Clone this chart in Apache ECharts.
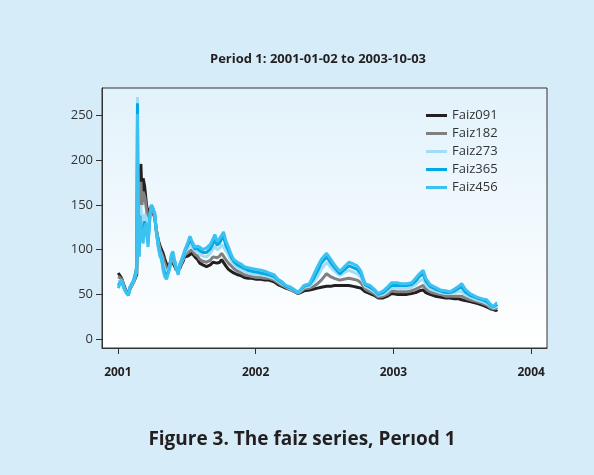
<!DOCTYPE html>
<html lang="en">
<head>
    <meta charset="UTF-8">
    <title>Faiz series, Period 1</title>
    <script src="https://cdn.jsdelivr.net/npm/echarts@6/dist/echarts.min.js"></script>
    <style>
        html, body { margin: 0; padding: 0; background: #d6ecf9; }
    </style>
</head>
<body>
<div id="myChart" style="height: 475px;width: 594px;"></div>
<script>
    var dates = [
        '2001-01-02','2001-01-05','2001-01-11','2001-01-17','2001-01-23','2001-01-29','2001-02-02','2001-02-07',
        '2001-02-12','2001-02-16','2001-02-20','2001-02-22','2001-02-23','2001-02-26','2001-02-28','2001-03-03',
        '2001-03-06','2001-03-09','2001-03-13','2001-03-18','2001-03-22','2001-03-27','2001-03-31','2001-04-04',
        '2001-04-09','2001-04-13','2001-04-18','2001-04-23','2001-04-27','2001-05-01','2001-05-05','2001-05-10',
        '2001-05-14','2001-05-18','2001-05-23','2001-05-27','2001-05-31','2001-06-05','2001-06-10','2001-06-14',
        '2001-06-19','2001-06-23','2001-06-27','2001-07-02','2001-07-06','2001-07-11','2001-07-16','2001-07-24',
        '2001-07-31','2001-08-06','2001-08-14','2001-08-24','2001-09-03','2001-09-10','2001-09-15','2001-09-21',
        '2001-09-28','2001-10-03','2001-10-08','2001-10-14','2001-10-21','2001-10-28','2001-11-04','2001-11-14',
        '2001-11-23','2001-12-02','2001-12-12','2001-12-21','2002-01-03','2002-01-15','2002-01-25','2002-02-05',
        '2002-02-19','2002-03-01','2002-03-12','2002-03-22','2002-04-04','2002-04-15','2002-04-23','2002-04-30',
        '2002-05-09','2002-05-24','2002-06-04','2002-06-14','2002-06-24','2002-07-08','2002-07-18','2002-07-29',
        '2002-08-12','2002-08-22','2002-09-05','2002-09-17','2002-09-27','2002-10-07','2002-10-18','2002-10-31',
        '2002-11-11','2002-11-22','2002-12-05','2002-12-16','2002-12-27','2003-01-10','2003-01-22','2003-02-06',
        '2003-02-18','2003-03-01','2003-03-11','2003-03-21','2003-03-28','2003-04-08','2003-04-22','2003-05-05',
        '2003-05-19','2003-05-31','2003-06-12','2003-06-23','2003-07-01','2003-07-10','2003-07-23','2003-08-10',
        '2003-08-25','2003-09-05','2003-09-15','2003-09-23','2003-09-30','2003-10-03'
    ];

    var faiz091 = [
        74,72,68,60,54,51,56,60, 64,64,72,150,120,110,175,196,
        160,180,171,150,141,142,148,146, 135,122,111,104,100,96,90,84,
        81,84,89,87,82,77,76,79, 84,87,92,90,93,94,96,92,
        89,85,83,81,83,86,88,85, 86,89,88,82,78,76,74,72,
        71,69,68,68,67,67,66,66, 64,61,59,57,55,53,51,52,
        54,55,56,57,58,59,59,60, 60,60,60,59,58,57,53,51,
        49,46,46,48,51,50,50,50, 51,52,54,55,52,50,48,47,
        46,46,45,45,44,43,42,40, 38,36,34,33,32,33
    ];
    var faiz182 = [
        70,69,67,59,53,50,56,60, 64,65,74,200,150,105,160,176,
        150,165,160,145,130,140,149,146, 136,122,110,100,96,91,85,80,
        77,82,90,89,84,78,76,80, 85,89,94,93,97,99,100,95,
        93,89,87,86,88,92,94,91, 93,96,96,89,85,82,79,76,
        74,72,71,70,69,69,68,68, 66,63,60,58,55,53,51,53,
        56,57,59,62,66,73,70,68, 66,67,68,67,66,63,56,53,
        51,47,48,50,54,53,53,53, 54,56,58,60,56,53,51,50,
        48,48,48,48,48,46,44,42, 40,38,35,34,34,35
    ];
    var faiz273 = [
        64,65,66,58,52,49,57,61, 65,67,78,271,190,95,140,150,
        125,130,140,135,112,135,149,146, 138,121,107,96,92,84,78,74,
        72,80,92,93,87,79,75,82, 87,90,96,96,102,106,105,99,
        98,95,93,92,96,101,104,100, 102,106,108,99,94,88,84,80,
        78,76,74,73,72,72,71,70, 68,65,62,59,56,54,52,54,
        58,59,64,70,78,86,81,76, 71,74,77,75,73,69,59,56,
        53,49,50,53,57,57,57,57, 58,61,65,67,61,56,54,52,
        51,51,52,53,53,50,47,44, 42,40,37,35,36,37
    ];
    var faiz365 = [
        60,62,66,57,52,49,58,62, 66,68,80,264,180,93,138,140,
        118,115,132,132,107,138,150,146, 139,120,105,94,90,80,74,70,
        68,79,94,96,88,79,74,83, 88,91,98,98,106,111,108,101,
        101,99,97,97,101,107,111,105, 108,112,115,105,99,92,87,83,
        81,79,77,76,75,74,73,72, 70,66,63,59,57,54,52,55,
        59,61,68,76,85,92,86,80, 73,77,82,80,78,73,61,58,
        55,50,52,56,60,60,60,60, 61,65,70,73,65,59,56,54,
        52,52,54,57,58,53,49,46, 44,42,38,36,38,39
    ];
    var faiz456 = [
        57,60,66,57,52,49,58,62, 66,70,82,252,170,92,137,130,
        112,107,125,130,103,140,150,146, 141,120,103,92,89,77,70,67,
        66,78,95,98,89,78,72,84, 89,91,99,100,109,115,110,103,
        104,103,100,102,106,112,117,109, 113,116,120,110,103,95,89,86,
        84,81,80,79,78,77,76,74, 72,67,64,60,58,55,52,55,
        60,62,72,81,89,96,90,83, 76,80,86,84,82,76,62,60,
        56,51,54,58,63,63,62,62, 63,68,73,77,68,61,58,55,
        54,53,56,59,62,56,51,47, 45,44,39,36,40,40
    ];

    var seriesNames = ['Faiz091', 'Faiz182', 'Faiz273', 'Faiz365', 'Faiz456'];
    var seriesColors = ['#231f20', '#808080', '#a3dcf5', '#00a9e6', '#3dc1f0'];
    var seriesValues = [faiz091, faiz182, faiz273, faiz365, faiz456];

    var yTicks = [0, 50, 100, 150, 200, 250];
    var xYears = [2001, 2002, 2003, 2004];

    // dates -> millisecond timestamps (UTC) so a plain value axis can place them
    function toTime(s) {
        var p = s.split('-');
        return Date.UTC(+p[0], +p[1] - 1, +p[2]);
    }

    function pairs(values) {
        var out = [];
        for (let i = 0; i < dates.length; i++) {
            out.push([toTime(dates[i]), values[i]]);
        }
        return out;
    }

    var series = [];
    for (let s = 0; s < seriesNames.length; s++) {
        series.push({
            name: seriesNames[s],
            type: 'line',
            showSymbol: false,
            symbol: 'none',
            lineStyle: { width: 3, color: seriesColors[s] },
            itemStyle: { color: seriesColors[s] },
            data: pairs(seriesValues[s])
        });
    }

    var yearStarts = xYears.map(function (y) { return Date.UTC(y, 0, 1); });

    var chart = echarts.init(document.getElementById('myChart'));
    chart.setOption({
        animation: false,
        backgroundColor: '#d6ecf9',
        textStyle: { fontFamily: 'Open Sans' },
        title: [
            {
                text: 'Period 1: 2001-01-02 to 2003-10-03',
                left: 313, top: 48, textAlign: 'center',
                textStyle: { fontSize: 13, fontWeight: 'bold', color: '#231f20', fontFamily: 'Open Sans' }
            },
            {
                text: 'Figure 3. The faiz series, Perıod 1',
                left: 297, top: 425, textAlign: 'center',
                textStyle: { fontSize: 19, fontWeight: 'bold', color: '#231f20', fontFamily: 'Open Sans' }
            }
        ],
        legend: {
            orient: 'vertical',
            left: 421, top: 104,
            itemWidth: 21, itemHeight: 3, itemGap: 5,
            icon: 'rect',
            textStyle: { fontSize: 13, color: '#333' },
            data: seriesNames
        },
        grid: {
            left: 102, right: 47, top: 88, bottom: 127,
            show: true,
            borderColor: '#333', borderWidth: 1,
            backgroundColor: new echarts.graphic.LinearGradient(0, 0, 0, 1, [
                { offset: 0, color: '#e2f2fb' },
                { offset: 1, color: '#ffffff' }
            ])
        },
        xAxis: {
            type: 'value',
            min: Date.UTC(2000, 10, 20),
            max: Date.UTC(2004, 1, 12),
            axisLine: { show: true, onZero: false, lineStyle: { color: '#333' } },
            axisTick: { show: true, inside: false, length: 6, customValues: yearStarts, lineStyle: { color: '#333' } },
            axisLabel: {
                customValues: yearStarts,
                margin: 19,
                fontSize: 12, fontWeight: 'bold', color: '#231f20',
                formatter: function (v) { return String(new Date(v).getUTCFullYear()); }
            },
            splitLine: { show: false }
        },
        yAxis: {
            type: 'value',
            min: -10, max: 281,
            axisLine: { show: true, lineStyle: { color: '#333' } },
            axisTick: { show: true, inside: false, length: 6, customValues: yTicks, lineStyle: { color: '#333' } },
            axisLabel: { customValues: yTicks, margin: 9, fontSize: 13, color: '#333' },
            splitLine: { show: false }
        },
        series: series
    });
</script>
</body>
</html>
